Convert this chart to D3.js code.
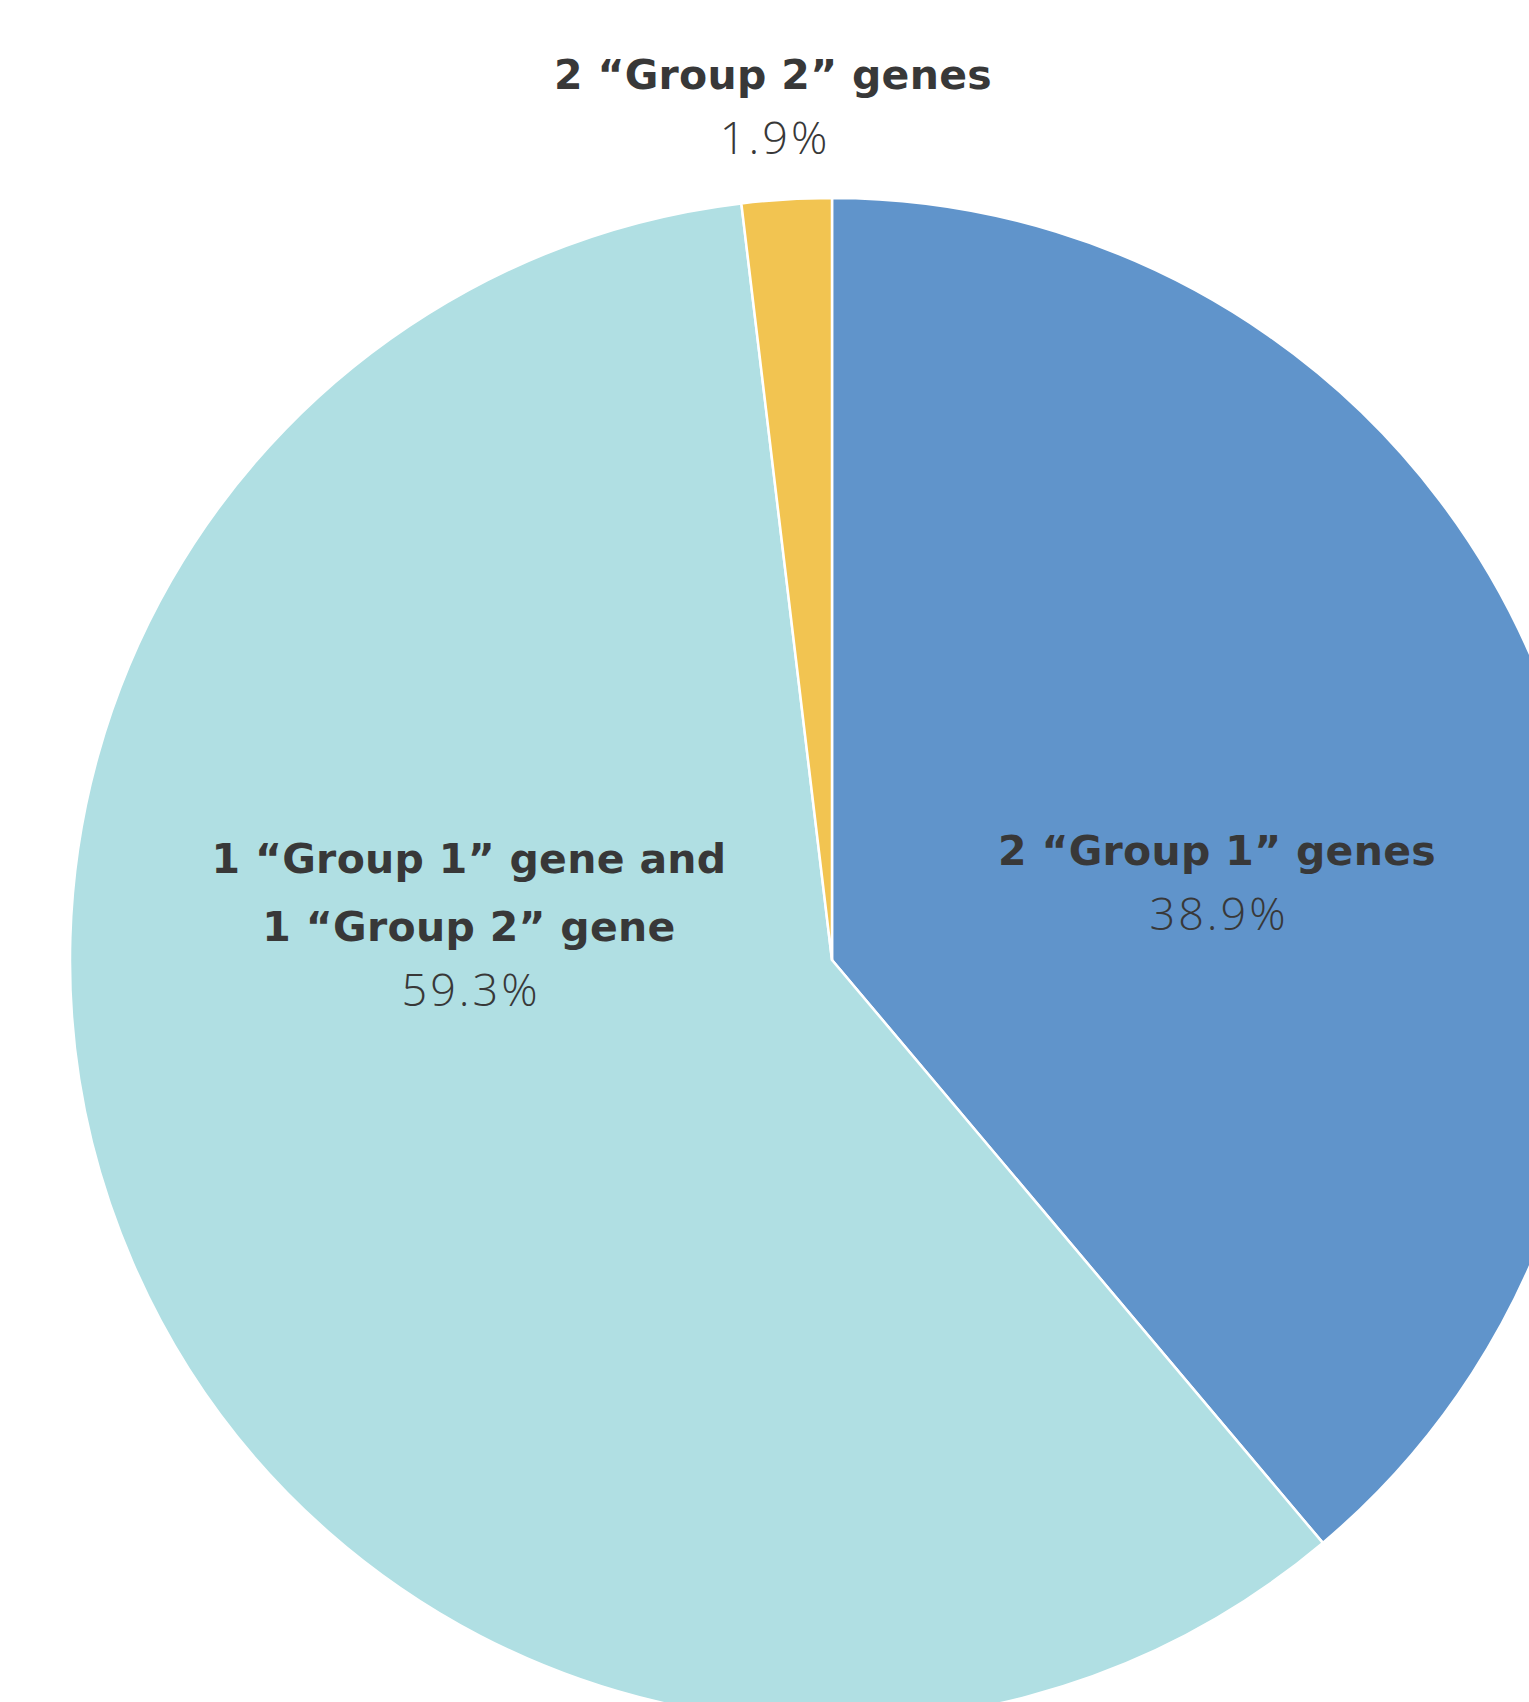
<!DOCTYPE html>
<html>
<head>
<meta charset="utf-8">
<script src="https://cdn.jsdelivr.net/npm/d3@7"></script>
<style>
  html, body { margin: 0; padding: 0; background: #ffffff; overflow: hidden; }
  svg { display: block; }
  text { fill: #383838; }
</style>
</head>
<body>
<svg id="chart" width="1529" height="1702"></svg>
<script>
// Data
const categories = ["2 \u201cGroup 1\u201d genes", "1 \u201cGroup 1\u201d gene and 1 \u201cGroup 2\u201d gene", "2 \u201cGroup 2\u201d genes"];
const labelLines = [["2 \u201cGroup 1\u201d genes"], ["1 \u201cGroup 1\u201d gene and", "1 \u201cGroup 2\u201d gene"], ["2 \u201cGroup 2\u201d genes"]];
const values = [38.9, 59.3, 1.9];
const colors = ["#6094cb", "#b0dfe3", "#f2c451"];

const W = 1529, H = 1702;
const cx = 832, cy = 960, R = 762;

const svg = d3.select("#chart");
const g = svg.append("g").attr("transform", `translate(${cx},${cy})`);

const pie = d3.pie().sort(null).value(d => d)(values);
const arc = d3.arc().innerRadius(0).outerRadius(R);

g.selectAll("path.slice")
  .data(pie)
  .join("path")
  .attr("class", "slice")
  .attr("d", arc)
  .attr("fill", (d, i) => colors[i])
  .attr("stroke", "#ffffff")
  .attr("stroke-width", 2.5)
  .attr("stroke-linejoin", "round");

// Label placement relative to pie center
const lineH = 68;
const labelAnchor = [
  { x: 385, y: -95 },   // blue slice, inside
  { x: -363, y: -87 },  // teal slice, inside
  { x: -59, y: -871 }   // yellow slice, outside above the pie
];

pie.forEach((d, i) => {
  const lines = labelLines[i];
  const a = labelAnchor[i];
  const t = g.append("text")
    .attr("text-anchor", "middle")
    .attr("transform", `translate(${a.x},${a.y})`);
  lines.forEach((ln, j) => {
    t.append("tspan")
      .attr("x", 0)
      .attr("y", j * lineH)
      .attr("font-family", "'DejaVu Sans', sans-serif")
      .attr("font-weight", 700)
      .attr("font-size", 41)
      .attr("letter-spacing", 0.3)
      .text(ln);
  });
  t.append("tspan")
    .attr("x", 2)
    .attr("y", lines.length * lineH - 3)
    .attr("font-family", "'Open Sans', sans-serif")
    .attr("font-weight", 300)
    .attr("font-size", 45)
    .attr("letter-spacing", 3)
    .text(d3.format(".1f")(values[i]) + "%");
});
</script>
</body>
</html>
